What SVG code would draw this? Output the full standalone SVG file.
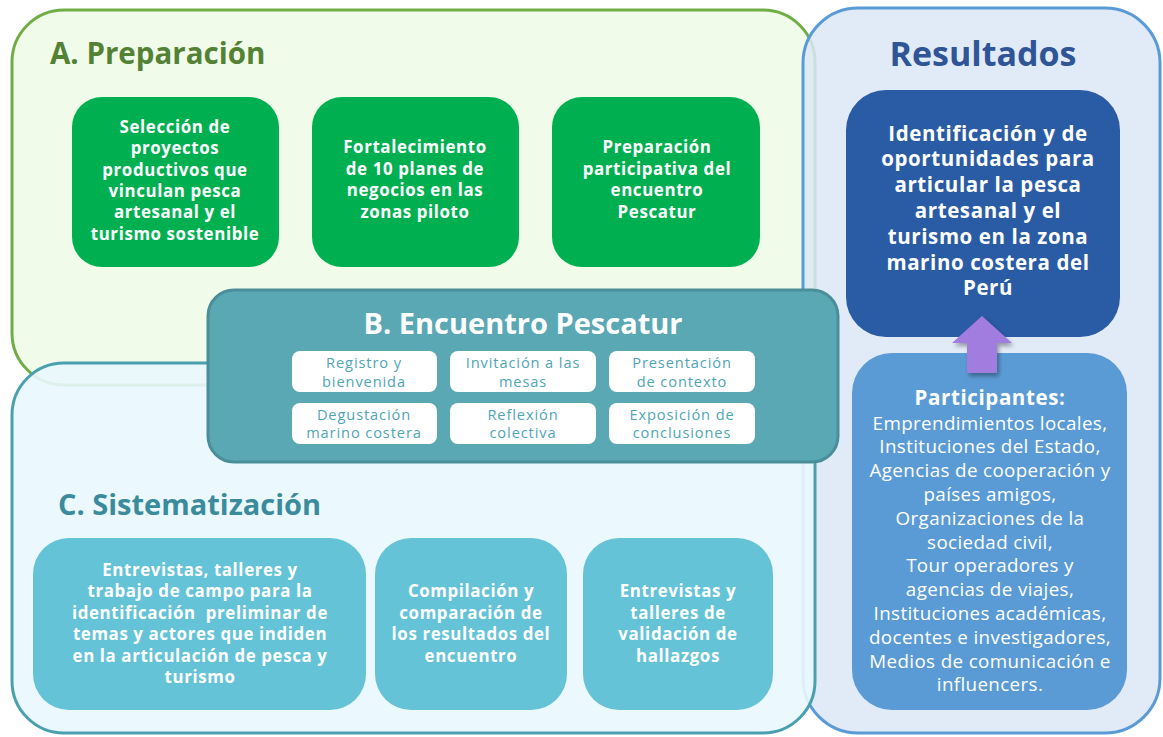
<svg xmlns="http://www.w3.org/2000/svg" width="1163" height="737" viewBox="0 0 1163 737">
<defs>
<style>
text{font-family:"Open Sans","Liberation Sans",sans-serif;text-anchor:middle}
.wb{fill:#fff;font-weight:bold;font-size:16.9px;letter-spacing:0.6px}
.sm{fill:#4FA5B4;font-size:14.6px;letter-spacing:0.9px}
.pt{fill:#fff;font-size:18.8px;letter-spacing:0.37px}
.rb{fill:#fff;font-weight:bold;font-size:20.5px;letter-spacing:0.6px}
.chip{fill:#fff}
.ga{fill:#00B050}
.cc{fill:#64C3D6}
</style>
<filter id="sh" x="-30%" y="-30%" width="160%" height="160%"><feDropShadow dx="2" dy="3" stdDeviation="2" flood-color="#000" flood-opacity="0.35"/></filter>
</defs>
<rect width="1163" height="737" fill="#fff"/>
<g id="sectionA">
<rect x="12" y="10" width="803" height="375" rx="52" fill="#F1FBEA" stroke="#70AD47" stroke-width="3"/>
<text x="50" y="64" style="text-anchor:start;font-size:29.5px;font-weight:bold;fill:#548235">A. Preparación</text>
</g>
<g id="a1">
<rect class="ga" x="72" y="97" width="207" height="170" rx="30"/>
<text class="wb"><tspan x="175" y="133">Selección de</tspan><tspan x="175" y="154.3">proyectos</tspan><tspan x="175" y="175.6">productivos que</tspan><tspan x="175" y="196.9">vinculan pesca</tspan><tspan x="175" y="218.2">artesanal y el</tspan><tspan x="175" y="239.5">turismo sostenible</tspan></text>
</g>
<g id="a2">
<rect class="ga" x="312" y="97" width="207" height="170" rx="30"/>
<text class="wb"><tspan x="415" y="153">Fortalecimiento</tspan><tspan x="415" y="174.5">de 10 planes de</tspan><tspan x="415" y="196">negocios en las</tspan><tspan x="415" y="217.5">zonas piloto</tspan></text>
</g>
<g id="a3">
<rect class="ga" x="552" y="97" width="208" height="170" rx="30"/>
<text class="wb"><tspan x="657" y="153">Preparación</tspan><tspan x="657" y="174.5">participativa del</tspan><tspan x="657" y="196">encuentro</tspan><tspan x="657" y="217.5">Pescatur</tspan></text>
</g>
<g id="resultados">
<rect x="803" y="8" width="357" height="725" rx="55" fill="#DCE8F6" fill-opacity="0.85" stroke="#5B9BD5" stroke-width="3"/>
<text x="983" y="66" style="font-size:34px;font-weight:bold;fill:#2F5597">Resultados</text>
</g>
<g id="sectionC">
<rect x="12" y="363" width="803" height="370" rx="52" fill="#E9F7FD" fill-opacity="0.9" stroke="#4BA0B0" stroke-width="3"/>
<text x="58" y="515" style="text-anchor:start;font-size:29px;font-weight:bold;fill:#3A8C9C">C. Sistematización</text>
</g>
<g id="c1">
<rect class="cc" x="33" y="538" width="333" height="172" rx="36"/>
<text class="wb"><tspan x="200" y="576">Entrevistas, talleres y</tspan><tspan x="200" y="597.4">trabajo de campo para la</tspan><tspan x="200" y="618.8" xml:space="preserve">identificación  preliminar de</tspan><tspan x="200" y="640.2">temas y actores que indiden</tspan><tspan x="200" y="661.6">en la articulación de pesca y</tspan><tspan x="200" y="683">turismo</tspan></text>
</g>
<g id="c2">
<rect class="cc" x="375" y="538" width="192" height="172" rx="36"/>
<text class="wb"><tspan x="471" y="597">Compilación y</tspan><tspan x="471" y="618.5">comparación de</tspan><tspan x="471" y="640">los resultados del</tspan><tspan x="471" y="661.5">encuentro</tspan></text>
</g>
<g id="c3">
<rect class="cc" x="583" y="538" width="190" height="172" rx="36"/>
<text class="wb"><tspan x="678" y="597">Entrevistas y</tspan><tspan x="678" y="618.5">talleres de</tspan><tspan x="678" y="640">validación de</tspan><tspan x="678" y="661.5">hallazgos</tspan></text>
</g>
<g id="sectionB">
<rect x="208" y="290" width="630" height="172" rx="26" fill="#5AA8B4" stroke="#4A8E9A" stroke-width="3"/>
<text x="523" y="334" style="font-size:29px;font-weight:bold;fill:#fff">B. Encuentro Pescatur</text>
</g>
<g id="b1"><rect class="chip" x="292" y="351" width="145" height="41" rx="8"/><text class="sm"><tspan x="364" y="368">Registro y</tspan><tspan x="364" y="386.5">bienvenida</tspan></text></g>
<g id="b2"><rect class="chip" x="450" y="351" width="146" height="41" rx="8"/><text class="sm"><tspan x="523" y="368">Invitación a las</tspan><tspan x="523" y="386.5">mesas</tspan></text></g>
<g id="b3"><rect class="chip" x="609" y="351" width="146" height="41" rx="8"/><text class="sm"><tspan x="682" y="368">Presentación</tspan><tspan x="682" y="386.5">de contexto</tspan></text></g>
<g id="b4"><rect class="chip" x="292" y="403" width="145" height="41" rx="8"/><text class="sm"><tspan x="364" y="419.5">Degustación</tspan><tspan x="364" y="438">marino costera</tspan></text></g>
<g id="b5"><rect class="chip" x="450" y="403" width="146" height="41" rx="8"/><text class="sm"><tspan x="523" y="419.5">Reflexión</tspan><tspan x="523" y="438">colectiva</tspan></text></g>
<g id="b6"><rect class="chip" x="609" y="403" width="146" height="41" rx="8"/><text class="sm"><tspan x="682" y="419.5">Exposición de</tspan><tspan x="682" y="438">conclusiones</tspan></text></g>
<g id="resultBox">
<rect x="846" y="90" width="274" height="247" rx="40" fill="#2A5BA5"/>
<text class="rb"><tspan x="988" y="140.5">Identificación y de</tspan><tspan x="988" y="166.3">oportunidades para</tspan><tspan x="988" y="192.1">articular la pesca</tspan><tspan x="988" y="217.9">artesanal y el</tspan><tspan x="988" y="243.7">turismo en la zona</tspan><tspan x="988" y="269.5">marino costera del</tspan><tspan x="988" y="295.3">Perú</tspan></text>
</g>
<g id="participantes">
<rect x="852" y="353" width="275" height="357" rx="40" fill="#5B9BD5"/>
<text class="rb" x="990" y="405">Participantes:</text>
<text class="pt"><tspan x="990" y="429.5">Emprendimientos locales,</tspan><tspan x="990" y="453.3">Instituciones del Estado,</tspan><tspan x="990" y="477.1">Agencias de cooperación y</tspan><tspan x="990" y="500.9">países amigos,</tspan><tspan x="990" y="524.7">Organizaciones de la</tspan><tspan x="990" y="548.5">sociedad civil,</tspan><tspan x="990" y="572.3">Tour operadores y</tspan><tspan x="990" y="596.1">agencias de viajes,</tspan><tspan x="990" y="619.9">Instituciones académicas,</tspan><tspan x="990" y="643.7">docentes e investigadores,</tspan><tspan x="990" y="667.5">Medios de comunicación e</tspan><tspan x="990" y="691.3">influencers.</tspan></text>
</g>
<g id="connectors">
<path d="M982 316 L1012 343 L997 343 L997 373 L967 373 L967 343 L952 343 Z" fill="#A07DDE" filter="url(#sh)"/>
</g>
</svg>
